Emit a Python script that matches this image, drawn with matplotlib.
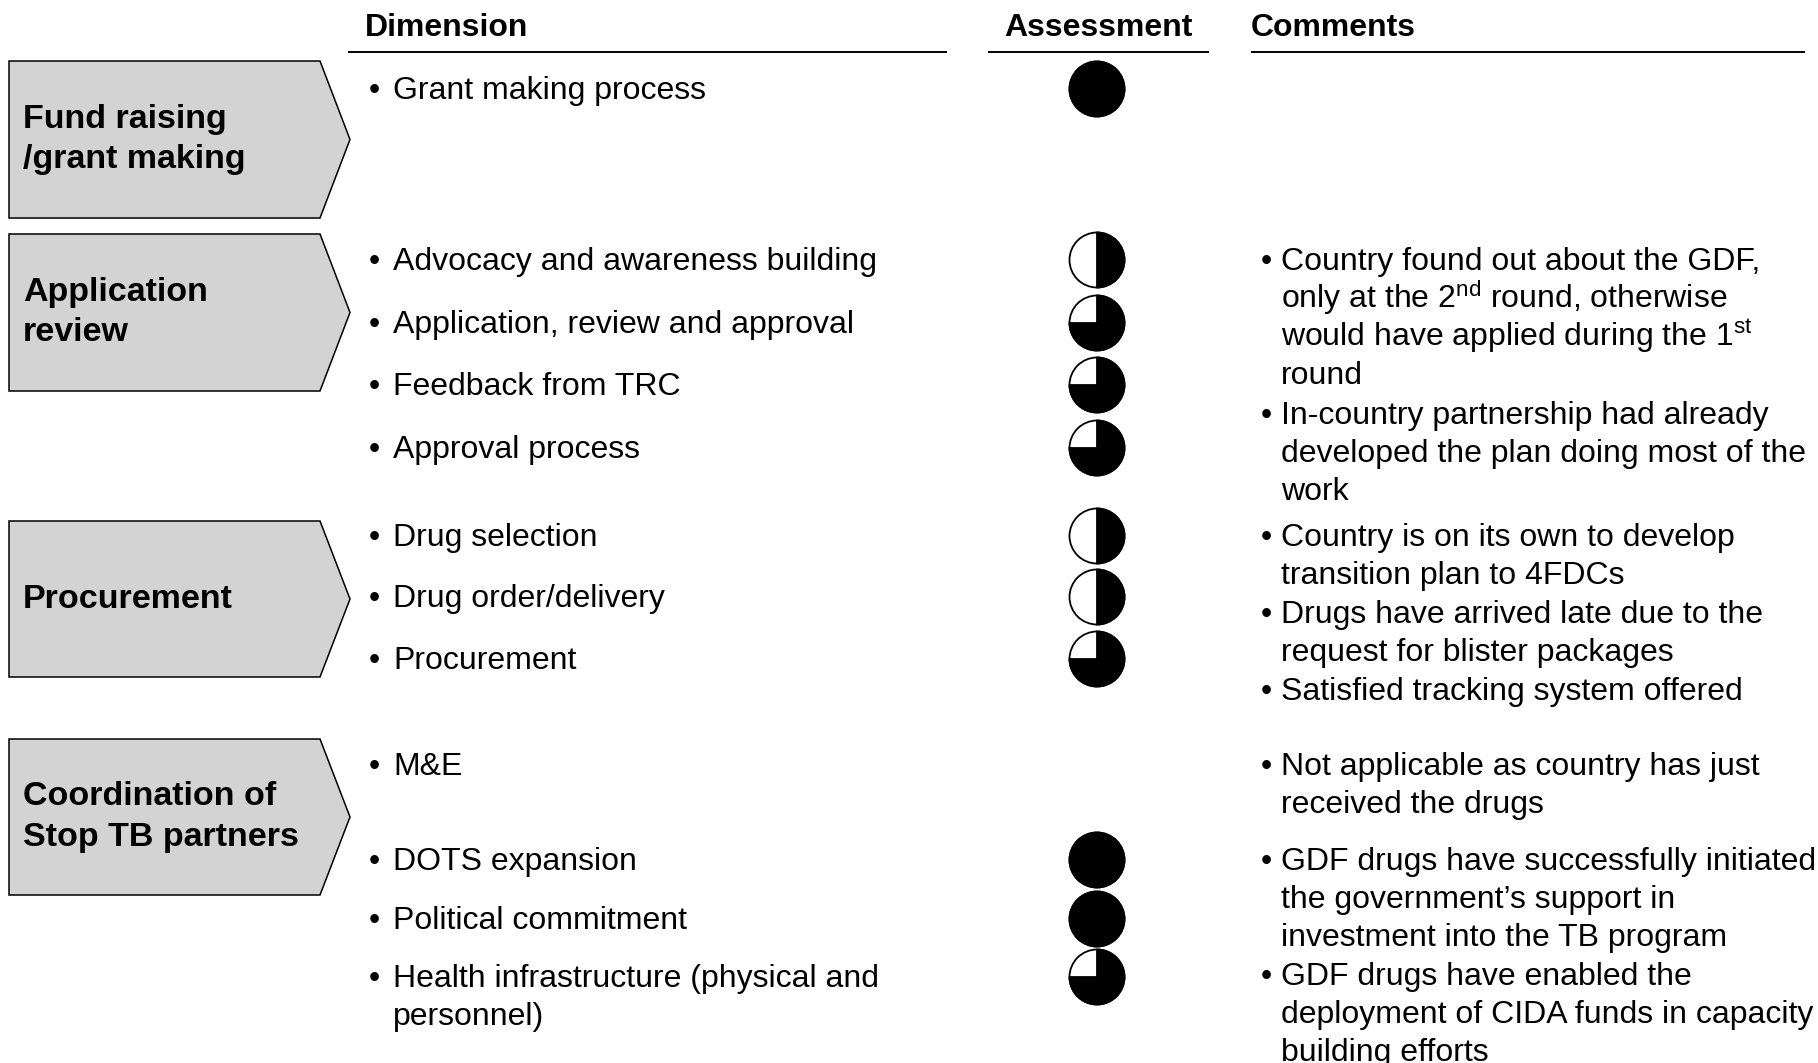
import matplotlib
matplotlib.use('Agg')
import matplotlib.pyplot as plt
from matplotlib.patches import Polygon, Wedge, Circle

plt.rcParams['font.family'] = ['Liberation Sans', 'DejaVu Sans']
plt.rcParams['mathtext.fontset'] = 'custom'
plt.rcParams['mathtext.rm'] = 'Liberation Sans'
plt.rcParams['mathtext.it'] = 'Liberation Sans:italic'
plt.rcParams['mathtext.bf'] = 'Liberation Sans:bold'

# === Données ===
headers = ["Dimension", "Assessment", "Comments"]

categories = ["Fund raising\n/grant making", "Application\nreview",
              "Procurement", "Coordination of\nStop TB partners"]

dimensions = ["Grant making process",
              "Advocacy and awareness building",
              "Application, review and approval",
              "Feedback from TRC",
              "Approval process",
              "Drug selection",
              "Drug order/delivery",
              "Procurement",
              "M&E",
              "DOTS expansion",
              "Political commitment",
              "Health infrastructure (physical and\npersonnel)"]

# part remplie de la boule (None = pas d'évaluation)
scores = [1.0, 0.5, 0.75, 0.75, 0.75, 0.5, 0.5, 0.75, None, 1.0, 1.0, 0.75]

comments = [
    ["Country found out about the GDF,",
     r"only at the 2$^{\mathrm{nd}}$ round, otherwise",
     r"would have applied during the 1$^{\mathrm{st}}$",
     "round"],
    ["In-country partnership had already",
     "developed the plan doing most of the",
     "work"],
    ["Country is on its own to develop",
     "transition plan to 4FDCs"],
    ["Drugs have arrived late due to the",
     "request for blister packages"],
    ["Satisfied tracking system offered"],
    ["Not applicable as country has just",
     "received the drugs"],
    ["GDF drugs have successfully initiated",
     "the government\u2019s support in",
     "investment into the TB program"],
    ["GDF drugs have enabled the",
     "deployment of CIDA funds in capacity",
     "building efforts"],
]

# === Mise en page (pixels) ===
box_spans = [(61, 218), (234, 391), (521, 677), (739, 895)]
row_y = [89, 260, 323, 385, 448, 536, 597, 659, 765, 860, 919, 977]
comment_y = [260, 414, 536, 613, 690, 765, 860, 975]
pitch = 38
fs = 23
base = 10  # décalage centre -> ligne de base

fig = plt.figure(figsize=(18.18, 10.63), dpi=100)
ax = fig.add_axes([0, 0, 1, 1])
ax.set_xlim(0, 1818)
ax.set_ylim(1063, 0)
ax.axis('off')

# En-têtes
ax.text(365, 25.5 + base, headers[0], fontsize=fs, fontweight='bold', va='baseline', ha='left')
ax.text(1098, 25.5 + base, headers[1], fontsize=fs, fontweight='bold', va='baseline', ha='center')
ax.text(1251, 25.5 + base, headers[2], fontsize=fs, fontweight='bold', va='baseline', ha='left')
for x0, x1 in [(348, 947), (988, 1209), (1251, 1805)]:
    ax.plot([x0, x1], [52, 52], color='black', lw=1.4, solid_capstyle='butt')

# Chevrons
for cat, (top, bot) in zip(categories, box_spans):
    mid = (top + bot) / 2
    poly = Polygon([(9, top), (320, top), (350, mid), (320, bot), (9, bot)],
                   closed=True, facecolor='#d3d3d3', edgecolor='black', lw=1.1)
    ax.add_patch(poly)
    ax.text(23, mid, cat, fontsize=24.5, fontweight='bold', va='center', ha='left',
            linespacing=1.4)

# Dimensions
for dim, y in zip(dimensions, row_y):
    for k, line in enumerate(dim.split("\n")):
        yy = y + k * pitch + base
        if k == 0:
            ax.text(369, yy, "\u2022", fontsize=fs, va='baseline', ha='left')
        ax.text(393, yy, line, fontsize=fs, va='baseline', ha='left')

# Boules de Harvey
cx, r = 1097, 27.5
for s, y in zip(scores, row_y):
    if s is None:
        continue
    ax.add_patch(Circle((cx, y), r, facecolor='white', edgecolor='black', lw=1.3))
    if s >= 1.0:
        ax.add_patch(Circle((cx, y), r, facecolor='black', edgecolor='black', lw=1.3))
    else:
        ax.add_patch(Wedge((cx, y), r, -90, -90 + 360 * s, facecolor='black',
                           edgecolor='black', lw=1.3))

# Commentaires
for lines, y in zip(comments, comment_y):
    for k, line in enumerate(lines):
        yy = y + k * pitch + base
        if k == 0:
            ax.text(1261, yy, "\u2022", fontsize=fs, va='baseline', ha='left')
        ax.text(1281, yy, line, fontsize=fs, va='baseline', ha='left')

plt.savefig("out.png", dpi=100)
